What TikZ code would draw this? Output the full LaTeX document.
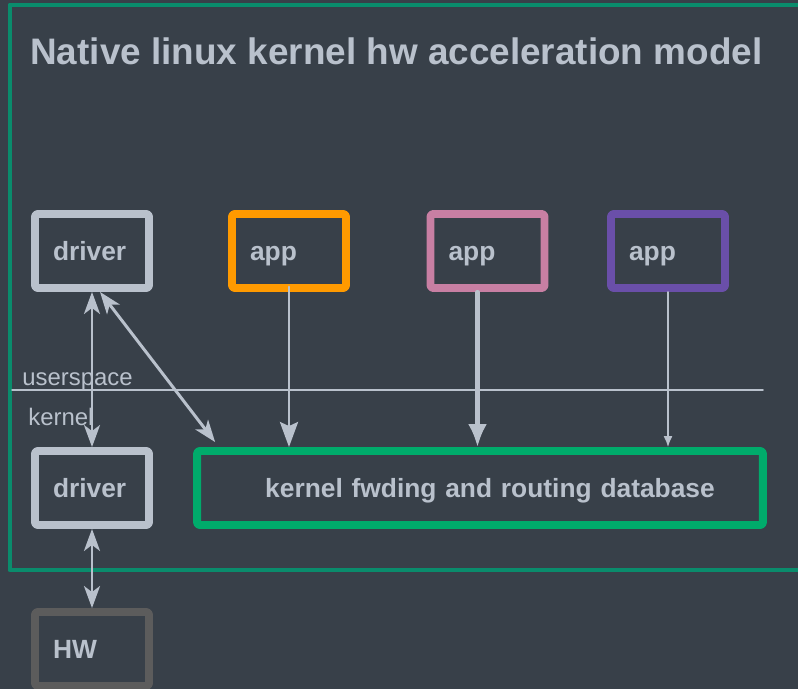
\documentclass[tikz,border=0pt]{standalone}
\usepackage{fontspec}
\setmainfont{Liberation Sans}
\usetikzlibrary{arrows.meta}
\definecolor{bgc}{HTML}{384049}
\definecolor{txt}{HTML}{B9C1CC}
\definecolor{frame}{HTML}{0A8C6C}
\definecolor{dbgreen}{HTML}{00AB6B}
\definecolor{orange}{HTML}{FF9A00}
\definecolor{pink}{HTML}{C87FA3}
\definecolor{purple}{HTML}{6A4FA9}
\definecolor{hwgrey}{HTML}{5C5C5C}
\tikzset{>=latex}
\tikzset{box/.style={draw, line width=4.5pt, rounded corners=1.5pt, minimum width=2.28cm, minimum height=1.48cm, text width=1.56cm, inner xsep=0.36cm, text height=11pt, text depth=0pt, align=left, text=txt, font=\fontsize{15}{18}\selectfont\bfseries}}
\tikzset{lbl/.style={text=txt, inner sep=0pt, font=\fontsize{13.6}{16}\selectfont}}
\tikzset{dbl/.style={txt, line width=1.7pt, {Stealth[length=0.44cm, width=0.32cm, inset=0.12cm]}-{Stealth[length=0.44cm, width=0.32cm, inset=0.12cm]}}}

\begin{document}
\begin{tikzpicture}[x=0.02cm, y=-0.02cm, line cap=round, line join=round]

	% Background
	\fill[bgc] (0,0) rectangle (798,689);
	\useasboundingbox (0,0) rectangle (798,689);

	% Outer Frame
	\draw[frame, line width=2.8pt] (810,5) -- (10,5) -- (10,570) -- (810,570);

	% Title
	\node[lbl, anchor=base west, font=\fontsize{21}{25}\selectfont\bfseries] (title) at (30,65) {Native linux kernel hw acceleration model};

	% Userspace / Kernel Separator
	\draw[txt, line width=0.85pt] (12,390) -- (763,390);
	\node[lbl, anchor=base west] (user) at (22,385) {userspace};
	\node[lbl, anchor=base west] (kern) at (28,425) {kernel};

	% Boxes
	\node[box, draw=txt] (drvU) at (92,251) {driver};
	\node[box, draw=orange] (appA) at (289,251) {app};
	\node[box, draw=pink] (appB) at (487.5,251) {app};
	\node[box, draw=purple] (appC) at (668,251) {app};
	\node[box, draw=txt] (drvL) at (92,488) {driver};
	\node[box, draw=dbgreen, minimum width=11.32cm, text width=10.6cm, align=center] (db) at (480,488) {\hspace*{0.4cm}kernel fwding and routing database};
	\node[box, draw=hwgrey] (hw) at (92,649) {HW};

	% Driver Connections
	\draw[dbl] (drvU.south) -- (drvL.north);
	\draw[dbl] ([xshift=0.16cm]drvU.south) -- ([xshift=0.44cm, yshift=0.1cm]db.north west);
	\draw[dbl] (drvL.south) -- (hw.north);

	% Apps to Database
	\draw[txt, line width=1.7pt, -{Stealth[length=0.5cm, width=0.36cm, inset=0.08cm]}] ([yshift=0.1cm]appA.south) -- (appA.south |- db.north);
	\draw[txt, line width=2.3pt, -{Latex[length=0.46cm, width=0.38cm]}] ([xshift=-0.2cm]appB.south) -- ([xshift=-0.2cm]appB.south |- db.north);
	\draw[txt, line width=0.85pt, -{Latex[length=0.22cm, width=0.18cm]}] (appC.south) -- (appC.south |- db.north);
\end{tikzpicture}
\end{document}
